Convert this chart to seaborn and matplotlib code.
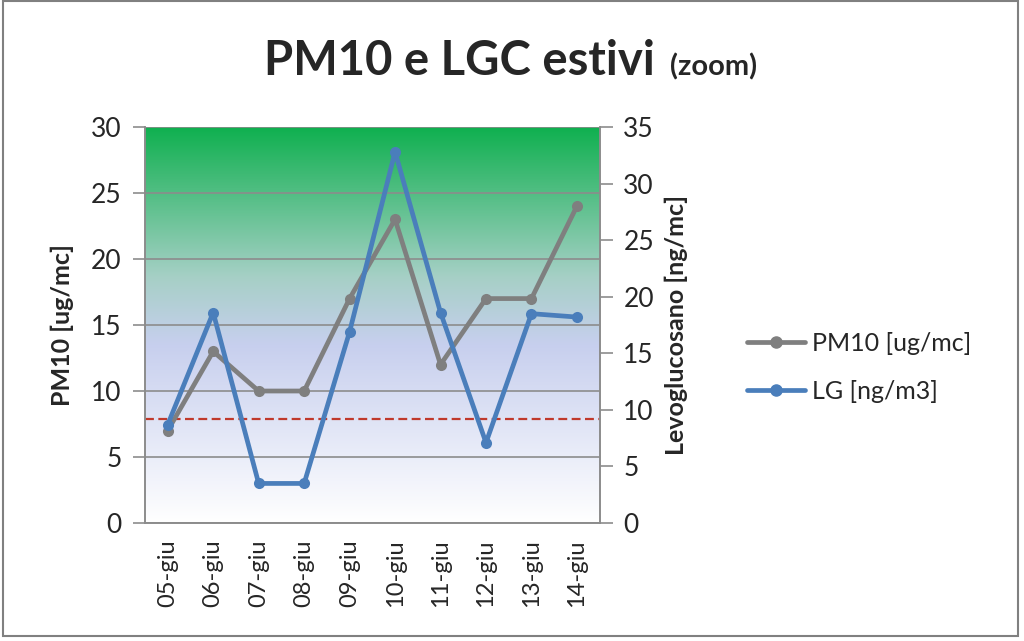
import matplotlib
matplotlib.use('Agg')
import matplotlib.pyplot as plt
import numpy as np
import pandas as pd
import seaborn as sns
from matplotlib.colors import LinearSegmentedColormap
from matplotlib.lines import Line2D
from matplotlib.patches import Rectangle

# Data
giorni = ['05-giu', '06-giu', '07-giu', '08-giu', '09-giu',
          '10-giu', '11-giu', '12-giu', '13-giu', '14-giu']
pm10 = [7, 13, 10, 10, 17, 23, 12, 17, 17, 24]
lg = [8.7, 18.6, 3.5, 3.5, 16.9, 32.8, 18.6, 7.1, 18.5, 18.2]
soglia_pm10 = 7.9

df = pd.DataFrame({'giorno': giorni, 'pm10': pm10, 'lg': lg})

sns.set_style('white')
plt.rcParams['font.family'] = ['Lato', 'DejaVu Sans']

fig = plt.figure(figsize=(10.24, 6.41), dpi=100)
ax = fig.add_axes([0.1416, 0.184, 0.444, 0.618])
ax2 = ax.twinx()

# gradient background (white -> lavender -> green)
cmap = LinearSegmentedColormap.from_list(
    'sfondo', [(0.0, '#ffffff'), (0.45, '#c7cfee'), (0.62, '#a6d0c6'), (1.0, '#0fb04f')])
grad = np.linspace(0, 1, 256).reshape(-1, 1)
ax.imshow(grad, cmap=cmap, origin='lower', aspect='auto',
          extent=[0, 1, 0, 1], transform=ax.transAxes, zorder=0)

grigio = '#7f7f7f'
blu = '#4a7ebb'

sns.lineplot(data=df, x='giorno', y='pm10', ax=ax, color=grigio, linewidth=3.4,
             marker='o', markersize=8, markeredgewidth=0, sort=False, zorder=3)
sns.lineplot(data=df, x='giorno', y='lg', ax=ax2, color=blu, linewidth=3.4,
             marker='o', markersize=8, markeredgewidth=0, sort=False, zorder=3)
ax.axhline(soglia_pm10, color='#c0392b', linestyle=(0, (4, 2)), linewidth=1.6, zorder=2)

ax.set_xlim(-0.5, len(giorni) - 0.5)
ax.set_ylim(0, 30)
ax2.set_ylim(0, 35)
ax.set_yticks(range(0, 31, 5))
ax2.set_yticks(range(0, 36, 5))
ax.yaxis.grid(True, color='#8c8c8c', linewidth=1.2, zorder=1)
ax.set_axisbelow(False)

# tick marks between categories
ax.set_xticks(np.arange(-0.5, len(giorni), 1), minor=True)
ax.tick_params(axis='x', which='major', length=0, labelsize=17, labelrotation=90, pad=12)
ax.tick_params(axis='x', which='minor', length=9, width=1.2, color='#8c8c8c', direction='out')
ax.tick_params(axis='y', length=9, width=1.2, color='#8c8c8c', direction='out', labelsize=19, pad=8)
ax2.tick_params(axis='y', length=9, width=1.2, color='#8c8c8c', direction='out', labelsize=19, pad=8)

for a in (ax, ax2):
    for s in a.spines.values():
        s.set_color('#8c8c8c')
        s.set_linewidth(1.2)
    a.spines['top'].set_visible(False)

ax.set_xlabel('')
ax.set_ylabel('PM10 [ug/mc]', fontsize=18, fontweight='bold', labelpad=12)
ax2.set_ylabel('Levoglucosano [ng/mc]', fontsize=18, fontweight='bold', labelpad=8)

# legend
handles = [Line2D([], [], color=grigio, linewidth=3.4, marker='o', markersize=8),
           Line2D([], [], color=blu, linewidth=3.4, marker='o', markersize=8)]
fig.legend(handles, ['PM10 [ug/mc]', 'LG [ng/m3]'], loc='center left',
           bbox_to_anchor=(0.708, 0.427), frameon=False, fontsize=18,
           handlelength=2.3, labelspacing=1.0, handletextpad=0.3)

# title
fig.text(655 / 1024, 0.883, 'PM10 e LGC estivi', ha='right', va='baseline',
         fontsize=34, fontweight='bold')
fig.text(670 / 1024, 0.883, '(zoom)', ha='left', va='baseline',
         fontsize=21, fontweight='bold')

# chart border
fig.patches.append(Rectangle((0.003, 0.008), 0.991, 0.99, transform=fig.transFigure,
                             fill=False, edgecolor='#808080', linewidth=1.5))

fig.savefig('out.png', dpi=100)
